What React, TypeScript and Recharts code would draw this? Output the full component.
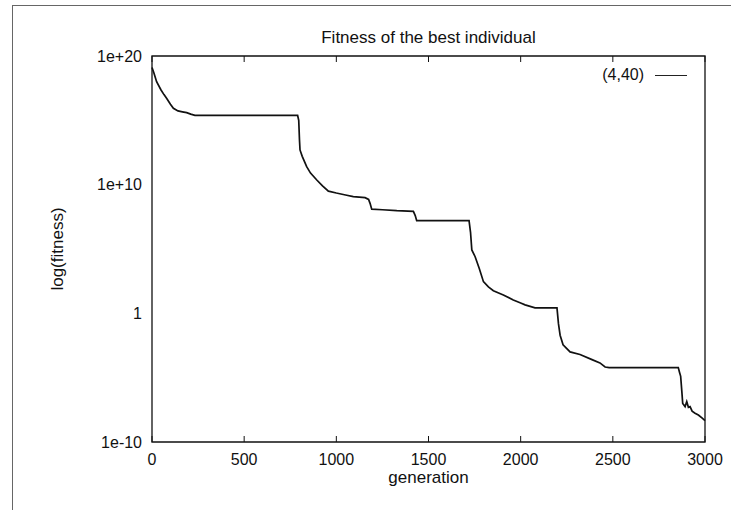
import { LineChart, Line, XAxis, YAxis, Legend, ReferenceArea } from "recharts";

// generation numbers
const generations = [
    0, 10, 25, 49, 65, 80, 100, 116, 141, 165, 188, 210, 233, 300, 400, 500, 600, 700, 790,
    796, 800, 803, 815, 839, 860, 894, 925, 957, 1000, 1050, 1092, 1156, 1175, 1183, 1192,
    1250, 1328, 1418, 1428, 1436, 1500, 1600, 1720, 1728, 1735, 1753, 1775, 1798, 1825, 1852,
    1906, 1960, 2000, 2024, 2078, 2150, 2197, 2205, 2214, 2230, 2268, 2322, 2387, 2430, 2458,
    2480, 2600, 2700, 2855, 2862, 2868, 2875, 2879, 2892, 2901, 2910, 2919, 2930, 2946, 2964,
    2985, 3000,
];

// log10(fitness) of the best individual, series "(4,40)"
const logFitness = [
    19.1, 18.7, 18.0, 17.36, 17.0, 16.7, 16.25, 15.94, 15.73, 15.66, 15.6, 15.48, 15.39, 15.38,
    15.38, 15.38, 15.38, 15.38, 15.38, 15.0, 13.5, 12.7, 12.2, 11.4, 10.9, 10.36, 9.9, 9.5, 9.35,
    9.2, 9.07, 8.99, 8.85, 8.55, 8.1, 8.05, 7.98, 7.93, 7.6, 7.2, 7.2, 7.2, 7.2, 6.3, 4.93, 4.4,
    3.5, 2.46, 2.05, 1.76, 1.43, 1.04, 0.8, 0.66, 0.42, 0.42, 0.42, -0.8, -1.7, -2.45, -3.0, -3.2,
    -3.6, -3.85, -4.17, -4.22, -4.22, -4.22, -4.22, -4.6, -4.9, -6.2, -7.0, -7.25, -6.86, -7.3,
    -7.25, -7.6, -7.76, -7.9, -8.15, -8.34,
];

const xTicks = [0, 500, 1000, 1500, 2000, 2500, 3000];
const yTicks = [-10, 0, 10, 20];
const yTickLabels: Record<number, string> = { 20: "1e+20", 10: "1e+10", 0: "1", [-10]: "1e-10" };
const seriesName = "(4,40)";

const data = generations.map((g, i) => ({ generation: g, fitness: logFitness[i] }));

const font = "'Liberation Sans', Arial, Helvetica, sans-serif";
const tickStyle = { fill: "#111", fontSize: 16, fontFamily: font };
const labelStyle = { fill: "#111", fontSize: 17, fontFamily: font };

// mirrored axes only draw their tick marks inside the frame
const noLabel = () => <g />;

function LegendKey() {
    return (
        <div style={{ display: "flex", alignItems: "center", fontFamily: font, fontSize: 16, color: "#111" }}>
            <span>{seriesName}</span>
            <span style={{ display: "inline-block", width: 32, borderTop: "1px solid #222", marginLeft: 11 }} />
        </div>
    );
}

export default function App() {
    return (
        <div style={{ position: "absolute", left: 0, top: 0, width: 731, height: 510, background: "#fff", overflow: "hidden" }}>
            <div
                style={{
                    position: "absolute", left: 12, top: 5, width: 719, height: 505,
                    borderLeft: "1px solid #666", borderTop: "1px solid #666",
                }}
            />
            <div
                style={{
                    position: "absolute", left: 152, width: 553, top: 28, textAlign: "center",
                    fontFamily: font, fontSize: 17, color: "#111",
                }}
            >
                Fitness of the best individual
            </div>
            <LineChart
                width={731}
                height={510}
                data={data}
                margin={{ top: 56, right: 26, bottom: 28, left: 40 }}
                style={{ position: "absolute", left: 0, top: 0 }}
            >
                <ReferenceArea
                    x1={0} x2={3000} y1={-10} y2={20}
                    fill="none" stroke="#111" strokeWidth={1.3}
                    ifOverflow="extendDomain"
                />
                <XAxis
                    dataKey="generation"
                    type="number"
                    domain={[0, 3000]}
                    ticks={xTicks}
                    tick={tickStyle}
                    tickLine={false}
                    axisLine={false}
                    tickSize={6}
                    tickMargin={6}
                    height={40}
                    label={{ value: "generation", position: "insideBottom", offset: -1, style: labelStyle }}
                />
                <XAxis xAxisId="bottomTicks" dataKey="generation" type="number" domain={[0, 3000]} ticks={xTicks}
                    orientation="bottom" mirror tick={noLabel} axisLine={false} tickSize={6} tickLine={{ stroke: "#111" }} />
                <XAxis xAxisId="topTicks" dataKey="generation" type="number" domain={[0, 3000]} ticks={xTicks}
                    orientation="top" mirror tick={noLabel} axisLine={false} tickSize={6} tickLine={{ stroke: "#111" }} />
                <YAxis
                    type="number"
                    domain={[-10, 20]}
                    ticks={yTicks}
                    width={112}
                    tick={tickStyle}
                    tickFormatter={(v: number) => yTickLabels[v] ?? String(v)}
                    tickLine={false}
                    axisLine={false}
                    tickSize={4}
                    tickMargin={6}
                    label={{ value: "log(fitness)", angle: -90, position: "insideLeft", offset: 17, style: { ...labelStyle, textAnchor: "middle" } }}
                />
                <YAxis yAxisId="leftTicks" type="number" domain={[-10, 20]} ticks={yTicks}
                    orientation="left" mirror tick={noLabel} axisLine={false} tickSize={6} tickLine={{ stroke: "#111" }} />
                <YAxis yAxisId="rightTicks" type="number" domain={[-10, 20]} ticks={yTicks}
                    orientation="right" mirror tick={noLabel} axisLine={false} tickSize={6} tickLine={{ stroke: "#111" }} />
                <Legend
                    layout="horizontal"
                    verticalAlign="middle"
                    align="center"
                    content={() => <LegendKey />}
                    wrapperStyle={{ top: 66, right: 44, left: "auto", width: "auto" }}
                />
                <Line
                    name={seriesName}
                    dataKey="fitness"
                    type="linear"
                    stroke="#111"
                    strokeWidth={1.7}
                    dot={false}
                    isAnimationActive={false}
                />
            </LineChart>
        </div>
    );
}
